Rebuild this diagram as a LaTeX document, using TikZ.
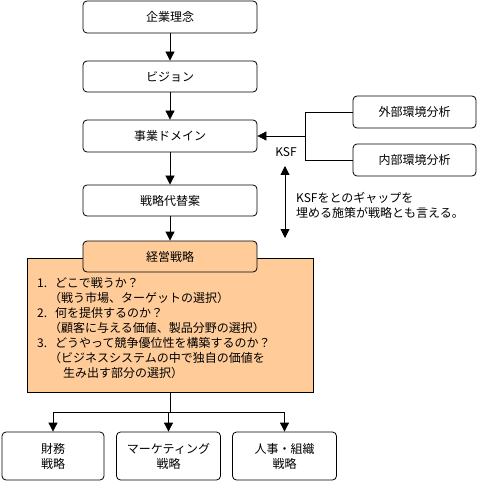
\documentclass[tikz,border=0pt]{standalone}
\usepackage{fontspec}
\setmainfont{Noto Sans CJK JP}
\usetikzlibrary{arrows.meta}
\definecolor{peach}{HTML}{FFCC99}
\begin{document}
\begin{tikzpicture}[x=1bp,y=-1bp,
  every node/.style={font=\fontsize{12bp}{15bp}\selectfont},
  rbox/.style={draw, rounded corners=4bp, line width=0.8bp, minimum width=174bp, minimum height=32bp, inner sep=0pt, fill=white, align=center},
  ln/.style={line width=0.8bp},
  arr/.style={line width=0.8bp, -{Triangle[length=9bp,width=9bp]}},
  darr/.style={line width=0.8bp, {Triangle[length=9bp,width=9bp]}-{Triangle[length=9bp,width=9bp]}},
  txt/.style={anchor=west, inner sep=0pt, align=left}]
\useasboundingbox (0,0) rectangle (479,482);
\node[rbox] (n1) at (170,17) {企業理念};
\node[rbox, minimum height=31bp] (n2) at (170,76.5) {ビジョン};
\node[rbox] (n3) at (170,136) {事業ドメイン};
\node[rbox, minimum height=31bp] (n4) at (170,200.5) {戦略代替案};
\node[draw, fill=peach, line width=0.8bp, minimum width=286bp, minimum height=134bp, inner sep=0pt] (big) at (170,325) {};
\node[rbox, fill=peach, minimum height=31bp] (n5) at (170,256.5) {経営戦略};
\draw[arr] (n1.south) -- (n2.north);
\draw[arr] (n2.south) -- (n3.north);
\draw[arr] (n3.south) -- (n4.north);
\draw[arr] (n4.south) -- (n5.north);
% list
\node[txt] (l1) at (37,283) {\makebox[18bp][l]{1.}どこで戦うか？};
\node[txt] (l2) at (49,298) {（戦う市場、ターゲットの選択）};
\node[txt] (l3) at (37,313) {\makebox[18bp][l]{2.}何を提供するのか？};
\node[txt] (l4) at (49,328) {（顧客に与える価値、製品分野の選択）};
\node[txt] (l5) at (37,343) {\makebox[18bp][l]{3.}どうやって競争優位性を構築するのか？};
\node[txt] (l6) at (49,358) {（ビジネスシステムの中で独自の価値を};
\node[txt] (l7) at (63,373) {生み出す部分の選択）};
% environment analysis
\node[rbox, minimum width=123bp] (ext) at (414.5,112) {外部環境分析};
\node[rbox, minimum width=123bp] (int) at (414.5,160) {内部環境分析};
\coordinate (ja) at (305,112);
\coordinate (jb) at (305,160);
\coordinate (jc) at (305,136);
\draw[ln] (ext.west) -- (ja) -- (jb) -- (int.west);
\draw[arr] (jc) -- (n3.east);
\node (ksf) at (286,152) {KSF};
\coordinate (da) at (285,166);
\coordinate (db) at (285,238);
\draw[darr] (da) -- (db);
\node[txt] (gap) at (296,205.5) {KSFをとのギャップを\\埋める施策が戦略とも言える。};
% bottom
\node[rbox, minimum width=102bp, minimum height=48bp] (b1) at (53,456) {財務\\戦略};
\node[rbox, minimum width=104bp, minimum height=48bp] (b2) at (168.5,456) {マーケティング\\戦略};
\node[rbox, minimum width=104bp, minimum height=48bp] (b3) at (284.5,456) {人事・組織\\戦略};
\coordinate (bj) at (170,412);
\draw[ln] (big.south) -- (bj);
\draw[arr] (bj) -| (b1.north);
\draw[arr] (bj) -| (b2.north);
\draw[arr] (bj) -| (b3.north);
\end{tikzpicture}
\end{document}
